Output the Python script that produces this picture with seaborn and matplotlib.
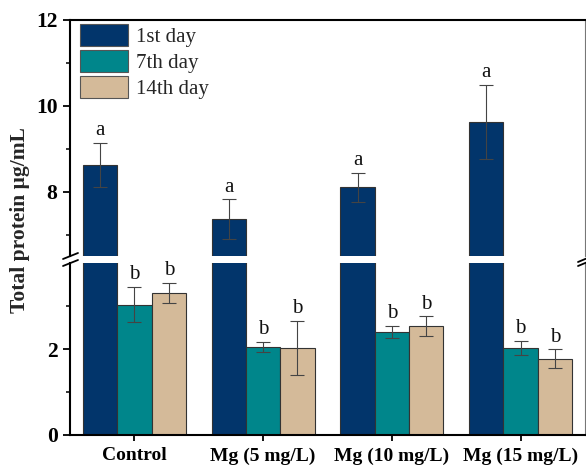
import numpy as np
import pandas as pd
import seaborn as sns
import matplotlib
matplotlib.use("Agg")
import matplotlib.pyplot as plt
from matplotlib.patches import Patch
from matplotlib.lines import Line2D
from matplotlib.container import BarContainer
from matplotlib.ticker import FixedLocator

# ---- data ----
groups = ["Control", "Mg (5 mg/L)", "Mg (10 mg/L)", "Mg (15 mg/L)"]
days = ["1st day", "7th day", "14th day"]
day1 = [8.62, 7.36, 8.10, 9.62]
day1_sd = [0.52, 0.46, 0.34, 0.87]
day7 = [3.03, 2.05, 2.40, 2.02]
day7_sd = [0.41, 0.12, 0.14, 0.17]
day14 = [3.31, 2.02, 2.53, 1.77]
day14_sd = [0.23, 0.63, 0.23, 0.22]
letters1 = ["a", "a", "a", "a"]
letters7 = ["b", "b", "b", "b"]
letters14 = ["b", "b", "b", "b"]
upper_ticks = [8, 10, 12]
upper_minor = [7, 9, 11]
lower_ticks = [0, 2]
lower_minor = [1, 3]
colors = ["#02356B", "#00868B", "#D4BA99"]

values = [day1, day7, day14]
sds = [day1_sd, day7_sd, day14_sd]
letters = [letters1, letters7, letters14]

df = pd.DataFrame({
    "group": groups * 3,
    "day": [d for d in days for _ in groups],
    "value": day1 + day7 + day14,
})

sns.set_theme(style="white")
plt.rcParams["font.family"] = ["Liberation Serif", "DejaVu Serif"]

W, H = 586, 469
fig = plt.figure(figsize=(W / 100, H / 100), dpi=100)

def fx(px):
    return px / W

def fy(py):
    return 1 - py / H

left, right = 70, 585
top_top, top_bot = 20, 256
low_top, low_bot = 263, 435

ax_top = fig.add_axes([fx(left), fy(top_bot), fx(right) - fx(left), fy(top_top) - fy(top_bot)])
ax_low = fig.add_axes([fx(left), fy(low_bot), fx(right) - fx(left), fy(low_top) - fy(low_bot)])

lower_lim = (0, 4)
upper_lim = (6.5, 12)

for ax in (ax_top, ax_low):
    sns.barplot(data=df, x="group", y="value", hue="day", hue_order=days,
                order=groups, palette=colors, saturation=1, edgecolor="#333333",
                linewidth=0.8, errorbar=None, ax=ax, legend=False)
    ax.set_xlim(-0.5, 3.5)
    ax.set_xlabel("")
    ax.set_ylabel("")
    bar_conts = [c for c in ax.containers if isinstance(c, BarContainer)]
    for ci, cont in enumerate(bar_conts):
        for bi, bar in enumerate(cont.patches):
            xc = bar.get_x() + bar.get_width() / 2
            v = values[ci][bi]
            s = sds[ci][bi]
            ax.errorbar(xc, v, yerr=s, fmt="none", ecolor="#444444",
                        elinewidth=0.8, capsize=5, capthick=0.8, zorder=5)
            in_top = v > upper_lim[0]
            if (ax is ax_top) == in_top:
                ax.annotate(letters[ci][bi], (xc, v + s), xytext=(0, 2),
                            textcoords="offset points", ha="center", va="bottom",
                            fontsize=15, color="#111111")

ax_top.set_ylim(*upper_lim)
ax_low.set_ylim(*lower_lim)

ax_top.yaxis.set_major_locator(FixedLocator(upper_ticks))
ax_top.yaxis.set_minor_locator(FixedLocator(upper_minor))
ax_low.yaxis.set_major_locator(FixedLocator(lower_ticks))
ax_low.yaxis.set_minor_locator(FixedLocator(lower_minor))

for ax in (ax_top, ax_low):
    ax.spines["left"].set_linewidth(1.5)
    ax.spines["left"].set_color("black")
    ax.spines["right"].set_linewidth(0.8)
    ax.spines["right"].set_color("#777777")
ax_top.spines["top"].set_linewidth(1.5)
ax_top.spines["top"].set_color("black")
ax_top.spines["bottom"].set_visible(False)
ax_low.spines["top"].set_visible(False)
ax_low.spines["bottom"].set_linewidth(1.5)
ax_low.spines["bottom"].set_color("black")

for ax in (ax_top, ax_low):
    ax.tick_params(axis="y", which="major", direction="out", length=5, width=1.3,
                   left=True, pad=4, labelsize=15.5, colors="black")
    ax.tick_params(axis="y", which="minor", direction="out", length=3, width=1.3, left=True)
    for lab in ax.get_yticklabels():
        lab.set_fontweight("bold")
ax_top.tick_params(axis="x", which="both", bottom=False, labelbottom=False)
ax_low.tick_params(axis="x", which="major", direction="out", length=4, width=1.3,
                   bottom=True, pad=5, labelsize=14, colors="black")
for lab in ax_low.get_xticklabels():
    lab.set_fontweight("bold")

handles = [Patch(facecolor=c, edgecolor="#555555", linewidth=0.8) for c in colors]
ax_top.legend(handles, days, loc="upper left", bbox_to_anchor=(0.012, 1.0),
              frameon=False, fontsize=15, handlelength=2.3, handleheight=1.25,
              labelspacing=0.15, handletextpad=0.35, borderpad=0.2,
              borderaxespad=0)

fig.text(fx(20), fy(220), "Total protein μg/mL", rotation=90, ha="center",
         va="center", fontsize=15.5, fontweight="bold")

def seg(x0, y0, x1, y1, lw=1.3, color="black"):
    fig.add_artist(Line2D([fx(x0), fx(x1)], [fy(y0), fy(y1)], color=color, lw=lw))

seg(63, 259, 78, 253)
seg(63, 266, 78, 260)
seg(578, 262, 590, 257)
seg(578, 266, 590, 261)

fig.savefig("out.png", dpi=100)
